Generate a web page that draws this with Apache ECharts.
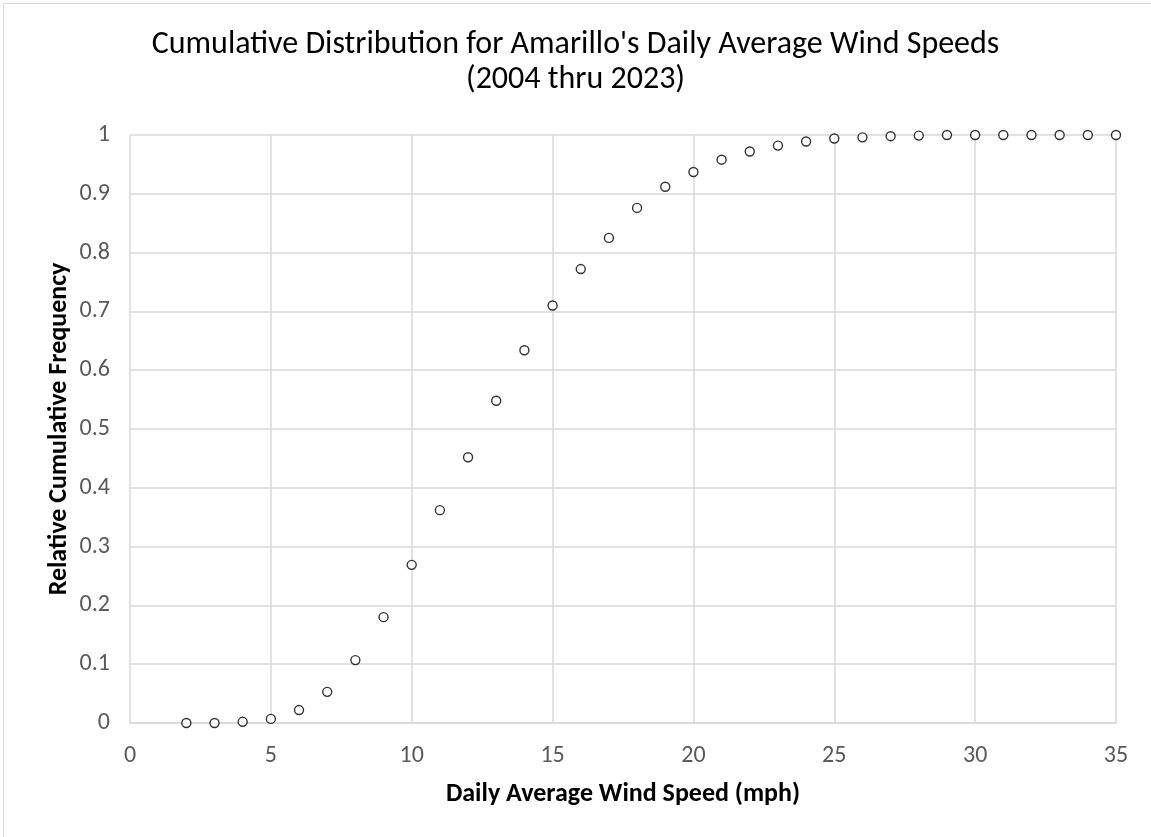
<!DOCTYPE html>
<html><head><meta charset="utf-8">
<script src="https://cdn.jsdelivr.net/npm/echarts@6/dist/echarts.min.js"></script>
<style>
html,body{margin:0;padding:0;background:#fff;}
#frame{position:absolute;left:3px;top:3px;width:1160px;height:840px;border:1px solid #d9d9d9;box-sizing:border-box;}
#c{position:absolute;left:0;top:0;width:1151px;height:837px;}
</style></head>
<body><div id="frame"></div><div id="c"></div>
<script>
const windSpeed = [2,3,4,5,6,7,8,9,10,11,12,13,14,15,16,17,18,19,20,21,22,23,24,25,26,27,28,29,30,31,32,33,34,35];
const cumFreq = [0.000,0.000,0.002,0.007,0.022,0.053,0.107,0.180,0.269,0.362,0.452,0.548,0.634,0.710,0.772,0.825,0.876,0.912,0.937,0.958,0.972,0.982,0.989,0.994,0.996,0.998,0.999,1.000,1.000,1.000,1.000,1.000,1.000,1.000];
const titleLines = ["Cumulative Distribution for Amarillo's Daily Average Wind Speeds","(2004 thru 2023)"];
const xName = "Daily Average Wind Speed (mph)";
const yName = "Relative Cumulative Frequency";

const FONT = "'Carlito','Liberation Sans Narrow','Noto Sans',sans-serif";
const chart = echarts.init(document.getElementById('c'));
chart.setOption({
  animation:false,
  backgroundColor:'transparent',
  title:{
    text: titleLines.join('\n'),
    left:'center', top:22,
    textStyle:{fontFamily:FONT,fontSize:32,fontWeight:'normal',color:'#000',lineHeight:35}
  },
  grid:{left:130,right:35,top:135,bottom:114,containLabel:false},
  xAxis:{
    type:'value',min:0,max:35,interval:5,
    name:xName,nameLocation:'middle',nameGap:58,nameMoveOverlap:false,
    nameTextStyle:{fontFamily:FONT,fontSize:26,fontWeight:'bold',color:'#000'},
    axisLine:{show:true,lineStyle:{color:'#d9d9d9',width:1.5}},
    axisTick:{show:false},
    axisLabel:{fontFamily:FONT,fontSize:24,color:'#595959',margin:21},
    splitLine:{show:true,lineStyle:{color:'#d9d9d9',width:1.5}}
  },
  yAxis:{
    type:'value',min:0,max:1,interval:0.1,
    name:yName,nameLocation:'middle',nameGap:58,nameMoveOverlap:false,
    nameTextStyle:{fontFamily:FONT,fontSize:26,fontWeight:'bold',color:'#000'},
    axisLine:{show:false},
    axisTick:{show:false},
    axisLabel:{fontFamily:FONT,fontSize:24,color:'#595959',margin:20,
      formatter:v=>String(Math.round(v*10)/10)},
    splitLine:{show:true,lineStyle:{color:'#d9d9d9',width:1.5}}
  },
  series:[{
    type:'scatter',
    data: windSpeed.map((x,i)=>[x,cumFreq[i]]),
    symbol:'circle',symbolSize:9,
    itemStyle:{color:'#fff',borderColor:'#000',borderWidth:1.4},
    z:5
  }]
});
</script></body></html>
